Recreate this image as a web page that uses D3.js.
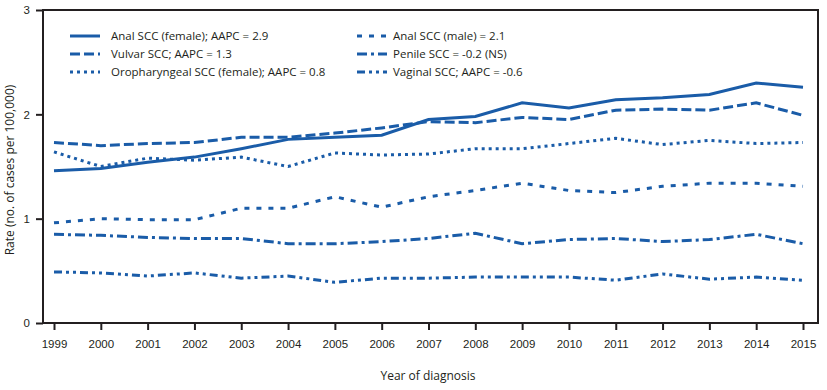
<!DOCTYPE html>
<html>
<head>
<meta charset="utf-8">
<script src="https://cdn.jsdelivr.net/npm/d3@7"></script>
<style>
  body { margin: 0; background: #fff; }
  svg { display: block; font-family: "Open Sans", "Noto Sans", sans-serif; }
</style>
</head>
<body>
<div id="chart"></div>
<script>
// data
var years = d3.range(1999, 2016)
var analFemale   = [1.46, 1.48, 1.54, 1.59, 1.67, 1.76, 1.78, 1.80, 1.95, 1.98, 2.11, 2.06, 2.14, 2.16, 2.19, 2.30, 2.26]
var vulvar       = [1.73, 1.70, 1.72, 1.73, 1.78, 1.78, 1.82, 1.87, 1.93, 1.92, 1.97, 1.95, 2.04, 2.05, 2.04, 2.11, 1.99]
var oropharyngeal= [1.64, 1.50, 1.58, 1.56, 1.59, 1.50, 1.63, 1.61, 1.62, 1.67, 1.67, 1.72, 1.77, 1.71, 1.75, 1.72, 1.73]
var analMale     = [0.96, 1.00, 0.99, 0.99, 1.10, 1.10, 1.21, 1.11, 1.21, 1.27, 1.34, 1.27, 1.25, 1.31, 1.34, 1.34, 1.31]
var penile       = [0.85, 0.84, 0.82, 0.81, 0.81, 0.76, 0.76, 0.78, 0.81, 0.86, 0.76, 0.80, 0.81, 0.78, 0.80, 0.85, 0.76]
var vaginal      = [0.49, 0.48, 0.45, 0.48, 0.43, 0.45, 0.39, 0.43, 0.43, 0.44, 0.44, 0.44, 0.41, 0.47, 0.42, 0.44, 0.41]
var seriesNames = [
  "Anal SCC (female); AAPC = 2.9",
  "Vulvar SCC; AAPC = 1.3",
  "Oropharyngeal SCC (female); AAPC = 0.8",
  "Anal SCC (male) = 2.1",
  "Penile SCC = -0.2 (NS)",
  "Vaginal SCC; AAPC = -0.6"
]
var yTicks = [0, 1, 2, 3]

var series = [
  {name: seriesNames[0], values: analFemale,    dash: null},
  {name: seriesNames[1], values: vulvar,        dash: "10,4"},
  {name: seriesNames[2], values: oropharyngeal, dash: "3,4"},
  {name: seriesNames[3], values: analMale,      dash: "5,7"},
  {name: seriesNames[4], values: penile,        dash: "10,4,3,4"},
  {name: seriesNames[5], values: vaginal,       dash: "8,4,3,4,3,4"}
]

var W = 827, H = 390
var blue = "#1a5ca8"
var frame = {left: 43, right: 818, top: 10, bottom: 323}

var svg = d3.select("#chart").append("svg")
    .attr("width", W)
    .attr("height", H)

var x = d3.scaleLinear().domain([1999, 2015]).range([54, 803])
var y = d3.scaleLinear().domain([0, 3]).range([frame.bottom, frame.top])

// frame
svg.append("rect")
    .attr("x", frame.left).attr("y", frame.top)
    .attr("width", frame.right - frame.left).attr("height", frame.bottom - frame.top)
    .attr("fill", "none")
    .attr("stroke", "#231f20")
    .attr("stroke-width", 2)

// y axis
var yAxis = svg.append("g")
    .attr("transform", `translate(${frame.left},0)`)
    .call(d3.axisLeft(y).tickValues(yTicks).tickSize(7).tickPadding(6).tickFormat(d3.format("d")))
yAxis.select(".domain").remove()
yAxis.selectAll("line").attr("stroke", "#231f20").attr("stroke-width", 2)
yAxis.selectAll("text").attr("font-size", 11.5).attr("fill", "#231f20")

// x axis
var xAxis = svg.append("g")
    .attr("transform", `translate(0,${frame.bottom})`)
    .call(d3.axisBottom(x).tickValues(years).tickSize(7).tickPadding(10).tickFormat(d3.format("d")))
xAxis.select(".domain").remove()
xAxis.selectAll("line").attr("stroke", "#231f20").attr("stroke-width", 2)
xAxis.selectAll("text").attr("font-size", 11.5).attr("fill", "#231f20")

// axis titles
svg.append("text")
    .attr("transform", "translate(14,170) rotate(-90)")
    .attr("text-anchor", "middle")
    .attr("font-size", 12)
    .attr("fill", "#231f20")
    .text("Rate (no. of cases per 100,000)")

svg.append("text")
    .attr("x", 428).attr("y", 380)
    .attr("text-anchor", "middle")
    .attr("font-size", 12)
    .attr("fill", "#231f20")
    .text("Year of diagnosis")

// lines
var line = d3.line()
    .x((d, i) => x(years[i]))
    .y(d => y(d))

svg.append("g")
    .selectAll("path")
    .data(series)
    .join("path")
    .attr("d", d => line(d.values))
    .attr("fill", "none")
    .attr("stroke", blue)
    .attr("stroke-width", 3)
    .attr("stroke-dasharray", d => d.dash)

// legend
var legendPos = [
  [70, 36], [70, 54], [70, 72],
  [357, 36], [357, 54], [357, 72]
]
var leg = svg.append("g")
    .selectAll("g")
    .data(series)
    .join("g")
    .attr("transform", (d, i) => `translate(${legendPos[i][0]},${legendPos[i][1]})`)

leg.append("line")
    .attr("x1", 0).attr("x2", 30)
    .attr("y1", 0).attr("y2", 0)
    .attr("stroke", blue)
    .attr("stroke-width", 3)
    .attr("stroke-dasharray", d => d.dash)

leg.append("text")
    .attr("x", (d, i) => i < 3 ? 41 : 36)
    .attr("dy", "0.35em")
    .attr("font-size", 11.5)
    .attr("fill", "#231f20")
    .text(d => d.name)
</script>
</body>
</html>
